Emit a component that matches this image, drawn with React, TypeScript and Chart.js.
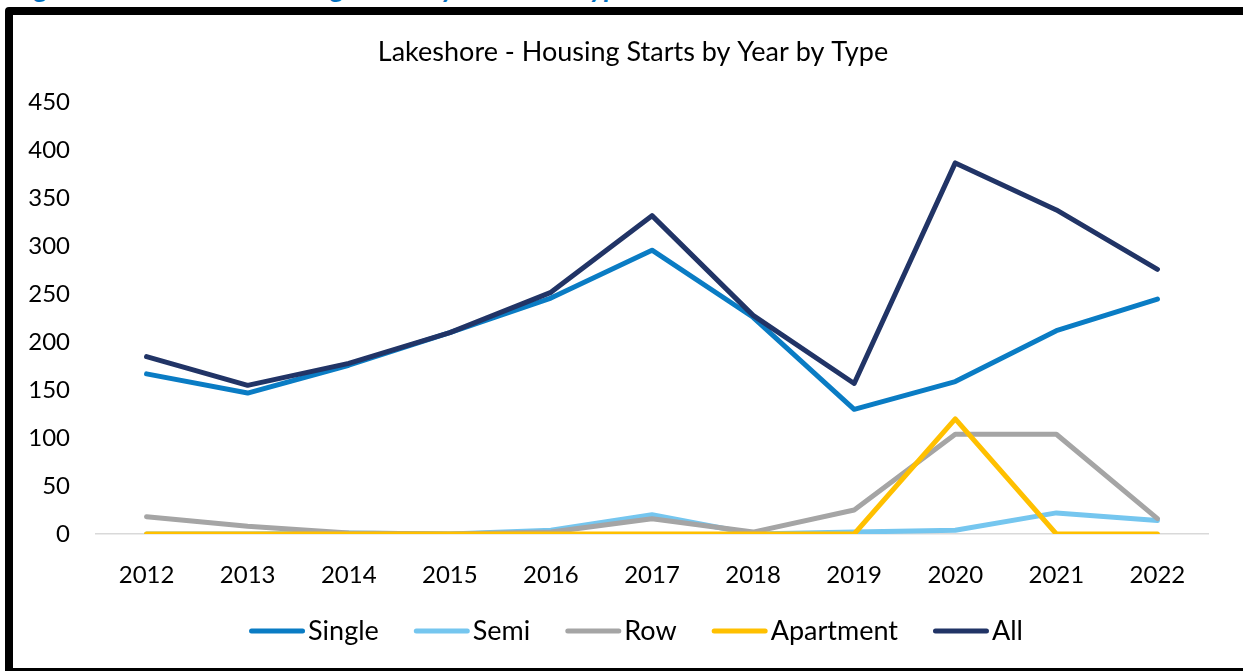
import React, { useEffect, useRef } from "react";
import { Chart, registerables } from "chart.js";

Chart.register(...registerables);

const years = ["2012", "2013", "2014", "2015", "2016", "2017", "2018", "2019", "2020", "2021", "2022"];
const single = [167, 147, 176, 210, 246, 296, 226, 130, 159, 212, 245];
const semi = [0, 0, 1, 0, 4, 20, 0, 2, 4, 22, 14];
const row = [18, 8, 1, 0, 2, 16, 2, 25, 104, 104, 16];
const apartment = [0, 0, 0, 0, 0, 0, 0, 0, 120, 0, 0];
const all = [185, 155, 178, 210, 252, 332, 228, 157, 387, 338, 276];

const seriesLabels = ["Single", "Semi", "Row", "Apartment", "All"];
const seriesColors = ["#0A7CC4", "#75C6EF", "#A5A5A5", "#FFC000", "#213466"];
const yTicks = { min: 0, max: 450, step: 50 };

const chartTitle = "Lakeshore - Housing Starts by Year by Type";
const pageHeading = "Figure 4: Lakeshore Housing Starts by Structure Type";

const FONT = 'Lato, "Open Sans", sans-serif';

const textPlugin = {
  id: "customText",
  afterDraw(chart: any) {
    const ctx = chart.ctx as CanvasRenderingContext2D;
    ctx.save();
    // title
    ctx.font = `27px ${FONT}`;
    ctx.fillStyle = "#000";
    ctx.textAlign = "center";
    ctx.textBaseline = "alphabetic";
    ctx.fillText(chartTitle, chart.width / 2, 46);

    // legend
    ctx.font = `27px ${FONT}`;
    const items = chart.data.datasets.map((ds: any) => ({
      label: ds.label as string,
      color: ds.borderColor as string,
      w: ctx.measureText(ds.label).width,
    }));
    const lineW = 56;
    const gap = 3;
    const itemGap = 35;
    let total = 0;
    items.forEach((it: any, i: number) => {
      total += lineW + gap + it.w + (i > 0 ? itemGap : 0);
    });
    let x = chart.width / 2 - total / 2 + 3;
    const ly = 616;
    ctx.textAlign = "left";
    items.forEach((it: any) => {
      ctx.beginPath();
      ctx.strokeStyle = it.color;
      ctx.lineWidth = 5;
      ctx.lineCap = "round";
      ctx.moveTo(x + 2.5, ly);
      ctx.lineTo(x + lineW - 2.5, ly);
      ctx.stroke();
      ctx.fillStyle = "#000";
      ctx.fillText(it.label, x + lineW + gap, ly + 9);
      x += lineW + gap + it.w + itemGap;
    });
    ctx.restore();
  },
};

export default function App() {
  const canvasRef = useRef<HTMLCanvasElement | null>(null);

  useEffect(() => {
    if (!canvasRef.current) return;
    const seriesData = [single, semi, row, apartment, all];
    const chart = new Chart(canvasRef.current, {
      type: "line",
      data: {
        labels: years,
        datasets: seriesData.map((d, i) => ({
          label: seriesLabels[i],
          data: d,
          borderColor: seriesColors[i],
          backgroundColor: seriesColors[i],
          borderWidth: 5,
          pointRadius: 0,
          pointHoverRadius: 0,
          tension: 0,
          fill: false,
          borderCapStyle: "round" as const,
          borderJoinStyle: "round" as const,
          order: seriesData.length - 1 - i,
        })),
      },
      options: {
        animation: false,
        responsive: false,
        devicePixelRatio: 1,
        layout: { padding: { top: 87.5, right: 45, bottom: 0, left: 0 } },
        plugins: {
          legend: { display: false },
          title: { display: false },
          tooltip: { enabled: false },
        },
        scales: {
          x: {
            offset: true,
            grid: { display: false, drawTicks: false },
            border: { display: true, color: "#D9D9D9", width: 1.5 },
            ticks: {
              color: "#000",
              font: { family: FONT, size: 24 },
              padding: 27,
              maxRotation: 0,
              autoSkip: false,
            },
            afterFit: (s: any) => {
              s.height = 134;
            },
          },
          y: {
            min: yTicks.min,
            max: yTicks.max,
            grid: { display: false, drawTicks: false },
            border: { display: false },
            ticks: {
              stepSize: yTicks.step,
              color: "#000",
              font: { family: FONT, size: 24 },
              padding: 26,
            },
            afterFit: (s: any) => {
              s.width = 83;
            },
          },
        },
      },
      plugins: [textPlugin],
    });
    return () => chart.destroy();
  }, []);

  return (
    <div
      style={{
        position: "fixed",
        left: 0,
        top: 0,
        width: 1243,
        height: 671,
        overflow: "hidden",
        background: "#fff",
      }}
    >
      <div
        style={{
          position: "absolute",
          left: 0,
          top: 0,
          width: 1243,
          height: 6,
          overflow: "hidden",
        }}
      >
        <div
          style={{
            position: "absolute",
            left: 13,
            top: -28,
            whiteSpace: "nowrap",
            fontFamily: FONT,
            fontStyle: "italic",
            fontWeight: "bold",
            fontSize: 28,
            lineHeight: "28px",
            color: "#0070C0",
          }}
        >
          {pageHeading}
        </div>
      </div>
      <div
        style={{
          position: "absolute",
          left: 5,
          top: 7,
          width: 1300,
          height: 669,
          boxSizing: "border-box",
          border: "8px solid #000",
          borderRadius: 4,
          background: "#fff",
        }}
      >
        <canvas
          ref={canvasRef}
          width={1240}
          height={653}
          style={{ position: "absolute", left: 0, top: 0, width: 1240, height: 653 }}
        />
      </div>
    </div>
  );
}
